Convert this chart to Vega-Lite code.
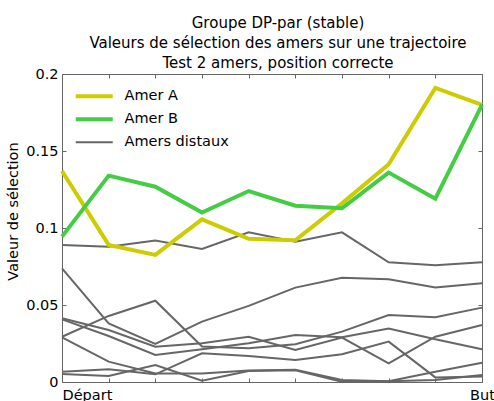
{
  "$schema": "https://vega.github.io/schema/vega-lite/v6.json",
  "width": 420,
  "height": 308,
  "autosize": "none",
  "padding": {"left": 62, "top": 74, "right": 12, "bottom": 19},
  "config": {
    "font": "DejaVu Sans",
    "view": {"stroke": "#666666", "strokeWidth": 1}
  },
  "title": {
    "text": ["Groupe DP-par (stable)", "Valeurs de sélection des amers sur une trajectoire", "Test 2 amers, position correcte"],
    "fontSize": 15,
    "fontWeight": "normal",
    "color": "#000000",
    "lineHeight": 20,
    "offset": -5,
    "anchor": "middle",
    "dx": 6
  },
  "datasets": {
    "gris": [
      {"id": "L1", "serie": "Amers distaux", "x": 0, "v": 0.0890}, {"id": "L1", "serie": "Amers distaux", "x": 1, "v": 0.0879}, {"id": "L1", "serie": "Amers distaux", "x": 2, "v": 0.0918}, {"id": "L1", "serie": "Amers distaux", "x": 3, "v": 0.0864}, {"id": "L1", "serie": "Amers distaux", "x": 4, "v": 0.0972}, {"id": "L1", "serie": "Amers distaux", "x": 5, "v": 0.0911}, {"id": "L1", "serie": "Amers distaux", "x": 6, "v": 0.0972}, {"id": "L1", "serie": "Amers distaux", "x": 7, "v": 0.0777}, {"id": "L1", "serie": "Amers distaux", "x": 8, "v": 0.0758}, {"id": "L1", "serie": "Amers distaux", "x": 9, "v": 0.0777},
      {"id": "L2", "serie": "Amers distaux", "x": 0, "v": 0.0738}, {"id": "L2", "serie": "Amers distaux", "x": 1, "v": 0.0381}, {"id": "L2", "serie": "Amers distaux", "x": 2, "v": 0.0247}, {"id": "L2", "serie": "Amers distaux", "x": 3, "v": 0.0392}, {"id": "L2", "serie": "Amers distaux", "x": 4, "v": 0.0494}, {"id": "L2", "serie": "Amers distaux", "x": 5, "v": 0.0613}, {"id": "L2", "serie": "Amers distaux", "x": 6, "v": 0.0677}, {"id": "L2", "serie": "Amers distaux", "x": 7, "v": 0.0667}, {"id": "L2", "serie": "Amers distaux", "x": 8, "v": 0.0613}, {"id": "L2", "serie": "Amers distaux", "x": 9, "v": 0.0641},
      {"id": "L3", "serie": "Amers distaux", "x": 0, "v": 0.0294}, {"id": "L3", "serie": "Amers distaux", "x": 1, "v": 0.0429}, {"id": "L3", "serie": "Amers distaux", "x": 2, "v": 0.0528}, {"id": "L3", "serie": "Amers distaux", "x": 3, "v": 0.0230}, {"id": "L3", "serie": "Amers distaux", "x": 4, "v": 0.0219}, {"id": "L3", "serie": "Amers distaux", "x": 5, "v": 0.0245}, {"id": "L3", "serie": "Amers distaux", "x": 6, "v": 0.0327}, {"id": "L3", "serie": "Amers distaux", "x": 7, "v": 0.0435}, {"id": "L3", "serie": "Amers distaux", "x": 8, "v": 0.0420}, {"id": "L3", "serie": "Amers distaux", "x": 9, "v": 0.0483},
      {"id": "L4", "serie": "Amers distaux", "x": 0, "v": 0.0414}, {"id": "L4", "serie": "Amers distaux", "x": 1, "v": 0.0338}, {"id": "L4", "serie": "Amers distaux", "x": 2, "v": 0.0229}, {"id": "L4", "serie": "Amers distaux", "x": 3, "v": 0.0251}, {"id": "L4", "serie": "Amers distaux", "x": 4, "v": 0.0294}, {"id": "L4", "serie": "Amers distaux", "x": 5, "v": 0.0208}, {"id": "L4", "serie": "Amers distaux", "x": 6, "v": 0.0288}, {"id": "L4", "serie": "Amers distaux", "x": 7, "v": 0.0121}, {"id": "L4", "serie": "Amers distaux", "x": 8, "v": 0.0294}, {"id": "L4", "serie": "Amers distaux", "x": 9, "v": 0.0370},
      {"id": "L5", "serie": "Amers distaux", "x": 0, "v": 0.0407}, {"id": "L5", "serie": "Amers distaux", "x": 1, "v": 0.0299}, {"id": "L5", "serie": "Amers distaux", "x": 2, "v": 0.0175}, {"id": "L5", "serie": "Amers distaux", "x": 3, "v": 0.0212}, {"id": "L5", "serie": "Amers distaux", "x": 4, "v": 0.0251}, {"id": "L5", "serie": "Amers distaux", "x": 5, "v": 0.0305}, {"id": "L5", "serie": "Amers distaux", "x": 6, "v": 0.0290}, {"id": "L5", "serie": "Amers distaux", "x": 7, "v": 0.0348}, {"id": "L5", "serie": "Amers distaux", "x": 8, "v": 0.0277}, {"id": "L5", "serie": "Amers distaux", "x": 9, "v": 0.0212},
      {"id": "L6", "serie": "Amers distaux", "x": 0, "v": 0.0290}, {"id": "L6", "serie": "Amers distaux", "x": 1, "v": 0.0132}, {"id": "L6", "serie": "Amers distaux", "x": 2, "v": 0.0056}, {"id": "L6", "serie": "Amers distaux", "x": 3, "v": 0.0055}, {"id": "L6", "serie": "Amers distaux", "x": 4, "v": 0.0075}, {"id": "L6", "serie": "Amers distaux", "x": 5, "v": 0.0080}, {"id": "L6", "serie": "Amers distaux", "x": 6, "v": 0.0013}, {"id": "L6", "serie": "Amers distaux", "x": 7, "v": 0.0005}, {"id": "L6", "serie": "Amers distaux", "x": 8, "v": 0.0067}, {"id": "L6", "serie": "Amers distaux", "x": 9, "v": 0.0125},
      {"id": "L7", "serie": "Amers distaux", "x": 0, "v": 0.0067}, {"id": "L7", "serie": "Amers distaux", "x": 1, "v": 0.0082}, {"id": "L7", "serie": "Amers distaux", "x": 2, "v": 0.0050}, {"id": "L7", "serie": "Amers distaux", "x": 3, "v": 0.0186}, {"id": "L7", "serie": "Amers distaux", "x": 4, "v": 0.0169}, {"id": "L7", "serie": "Amers distaux", "x": 5, "v": 0.0143}, {"id": "L7", "serie": "Amers distaux", "x": 6, "v": 0.0180}, {"id": "L7", "serie": "Amers distaux", "x": 7, "v": 0.0262}, {"id": "L7", "serie": "Amers distaux", "x": 8, "v": 0.0030}, {"id": "L7", "serie": "Amers distaux", "x": 9, "v": 0.0035},
      {"id": "L8", "serie": "Amers distaux", "x": 0, "v": 0.0052}, {"id": "L8", "serie": "Amers distaux", "x": 1, "v": 0.0039}, {"id": "L8", "serie": "Amers distaux", "x": 2, "v": 0.0110}, {"id": "L8", "serie": "Amers distaux", "x": 3, "v": 0.0008}, {"id": "L8", "serie": "Amers distaux", "x": 4, "v": 0.0071}, {"id": "L8", "serie": "Amers distaux", "x": 5, "v": 0.0076}, {"id": "L8", "serie": "Amers distaux", "x": 6, "v": 0.0002}, {"id": "L8", "serie": "Amers distaux", "x": 7, "v": 0.0005}, {"id": "L8", "serie": "Amers distaux", "x": 8, "v": 0.0013}, {"id": "L8", "serie": "Amers distaux", "x": 9, "v": 0.0045}
    ],
    "amers": [
      {"id": "A", "serie": "Amer A", "x": 0, "v": 0.137}, {"id": "A", "serie": "Amer A", "x": 1, "v": 0.089}, {"id": "A", "serie": "Amer A", "x": 2, "v": 0.0825}, {"id": "A", "serie": "Amer A", "x": 3, "v": 0.1056}, {"id": "A", "serie": "Amer A", "x": 4, "v": 0.093}, {"id": "A", "serie": "Amer A", "x": 5, "v": 0.092}, {"id": "A", "serie": "Amer A", "x": 6, "v": 0.116}, {"id": "A", "serie": "Amer A", "x": 7, "v": 0.1414}, {"id": "A", "serie": "Amer A", "x": 8, "v": 0.191}, {"id": "A", "serie": "Amer A", "x": 9, "v": 0.180},
      {"id": "B", "serie": "Amer B", "x": 0, "v": 0.0944}, {"id": "B", "serie": "Amer B", "x": 1, "v": 0.134}, {"id": "B", "serie": "Amer B", "x": 2, "v": 0.1268}, {"id": "B", "serie": "Amer B", "x": 3, "v": 0.110}, {"id": "B", "serie": "Amer B", "x": 4, "v": 0.124}, {"id": "B", "serie": "Amer B", "x": 5, "v": 0.1145}, {"id": "B", "serie": "Amer B", "x": 6, "v": 0.1128}, {"id": "B", "serie": "Amer B", "x": 7, "v": 0.136}, {"id": "B", "serie": "Amer B", "x": 8, "v": 0.119}, {"id": "B", "serie": "Amer B", "x": 9, "v": 0.180}
    ]
  },
  "resolve": {"axis": {"x": "independent", "y": "independent"}},
  "layer": [
    {
      "data": {"name": "gris"},
      "mark": {"type": "line", "strokeWidth": 2, "strokeCap": "butt", "strokeJoin": "miter"},
      "encoding": {
        "x": {
          "field": "x", "type": "quantitative",
          "scale": {"domain": [0, 9], "nice": false, "zero": false},
          "axis": {
            "values": [0, 1, 2, 3, 4, 5, 6, 7, 8, 9],
            "labelExpr": "datum.value == 0 ? 'Départ' : (datum.value == 9 ? 'But' : '')",
            "labelAlign": {"condition": {"test": "datum.value == 0", "value": "left"}, "value": "center"},
            "title": null, "grid": false, "domain": false,
            "tickSize": -4, "tickColor": "#666666", "tickWidth": 1,
            "labelPadding": 10, "labelFontSize": 14.5, "labelColor": "#000000", "labelOverlap": false, "labelBound": false, "labelFlush": false
          }
        },
        "y": {
          "field": "v", "type": "quantitative",
          "scale": {"domain": [0, 0.2], "nice": false, "zero": true},
          "axis": {
            "values": [0, 0.05, 0.1, 0.15, 0.2], "format": "~g",
            "title": "Valeur de sélection", "titleFontSize": 14.5, "titleFontWeight": "normal", "titleColor": "#000000", "titlePadding": 5, "titleY": 137,
            "grid": false, "domain": false,
            "tickSize": -4, "tickColor": "#666666", "tickWidth": 1,
            "labelPadding": 8, "labelFontSize": 14.5, "labelColor": "#000000", "labelOverlap": false, "labelBound": false, "labelFlush": false
          }
        },
        "detail": {"field": "id", "type": "nominal"},
        "color": {
          "field": "serie", "type": "nominal",
          "scale": {"domain": ["Amer A", "Amer B", "Amers distaux"], "range": ["#cccc00", "#44cc44", "#666666"]},
          "legend": {
            "title": null, "orient": "none", "legendX": 25, "legendY": 15,
            "symbolType": "stroke", "symbolSize": 1369, "labelFontSize": 14.5, "labelColor": "#000000",
            "rowPadding": 6, "padding": 0, "labelOffset": 23,
            "encode": {"symbols": {"update": {"strokeWidth": {"signal": "datum.value == 'Amers distaux' ? 2 : 4"}}}}
          }
        }
      }
    },
    {
      "data": {"name": "amers"},
      "mark": {"type": "line", "strokeWidth": 4, "strokeCap": "butt", "strokeJoin": "miter"},
      "encoding": {
        "x": {
          "field": "x", "type": "quantitative",
          "axis": {
            "orient": "top", "values": [0, 1, 2, 3, 4, 5, 6, 7, 8, 9], "labels": false,
            "title": null, "grid": false, "domain": false,
            "tickSize": -4, "tickColor": "#666666", "tickWidth": 1
          }
        },
        "y": {
          "field": "v", "type": "quantitative",
          "axis": {
            "orient": "right", "values": [0, 0.05, 0.1, 0.15, 0.2], "labels": false,
            "title": null, "grid": false, "domain": false,
            "tickSize": -4, "tickColor": "#666666", "tickWidth": 1
          }
        },
        "detail": {"field": "id", "type": "nominal"},
        "color": {"field": "serie", "type": "nominal"}
      }
    }
  ]
}
